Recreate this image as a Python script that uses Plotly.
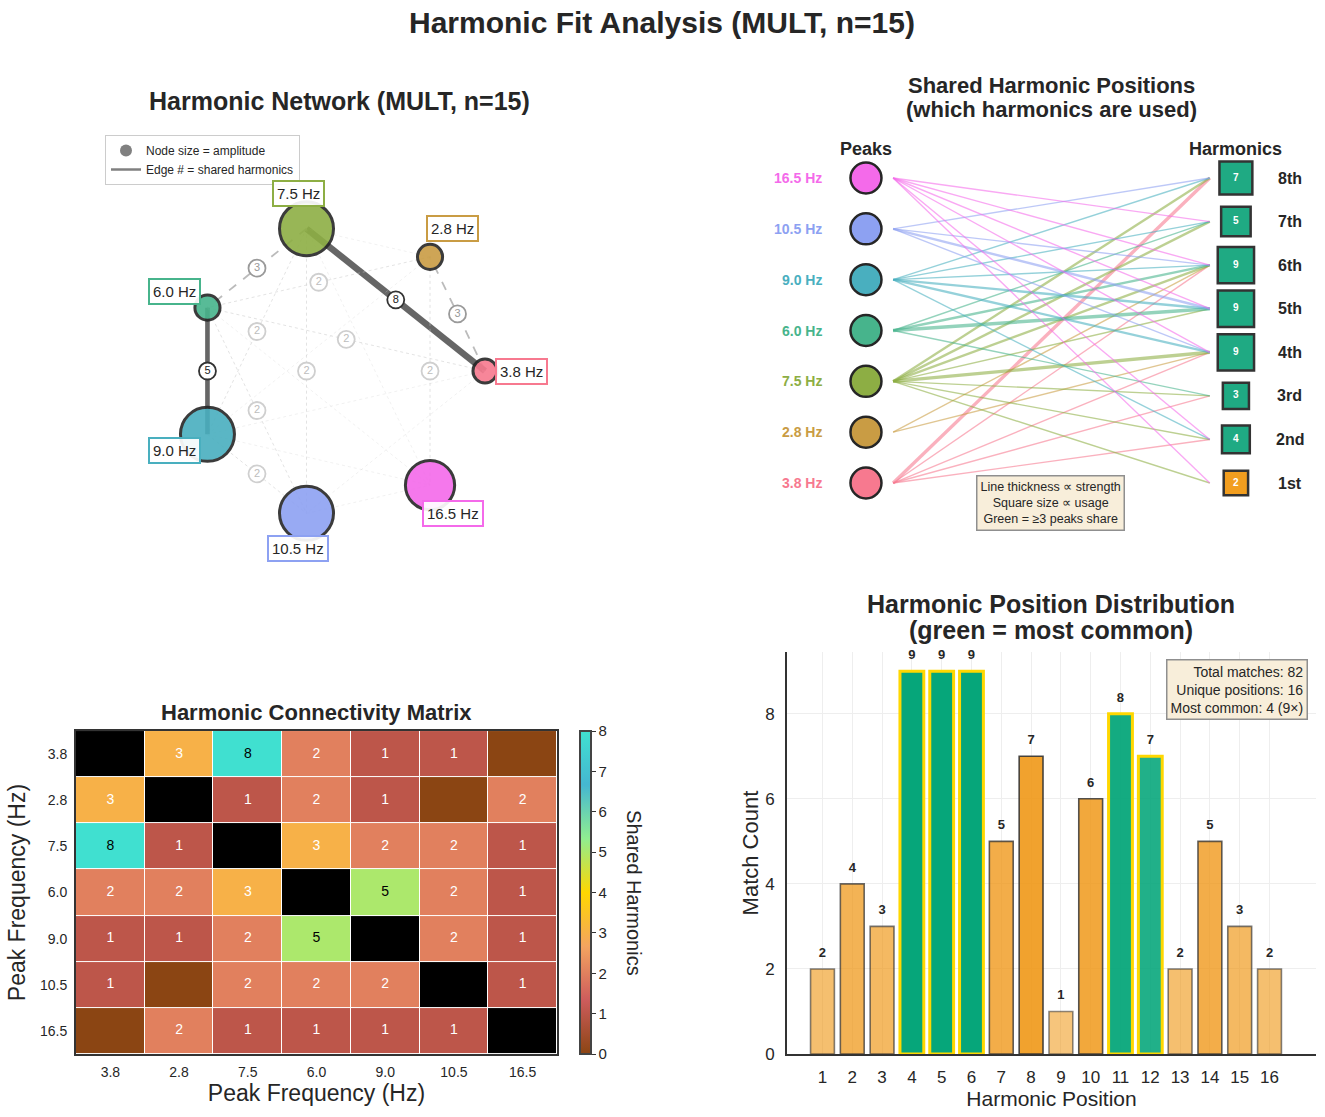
import math
import plotly.graph_objects as go

W, H = 1325, 1117
Y_SCALE = 0.991  # the page comes out a touch shorter than laid out; compensate

# ---- data -------------------------------------------------------------
PEAKS = ["3.8", "2.8", "7.5", "6.0", "9.0", "10.5", "16.5"]
PEAK_COLORS = ["#F7798F", "#C99C44", "#8DAE44", "#47B48C", "#49AFBF", "#8DA1F2", "#F46AEA"]
AMPLITUDE = [0.12, 0.15, 1.0, 0.15, 1.0, 1.0, 0.86]

# shared harmonic counts between peaks (same order as PEAKS)
SHARED = [
    [0, 3, 8, 2, 1, 1, 0],
    [3, 0, 1, 2, 1, 0, 2],
    [8, 1, 0, 3, 2, 2, 1],
    [2, 2, 3, 0, 5, 2, 1],
    [1, 1, 2, 5, 0, 2, 1],
    [1, 0, 2, 2, 2, 0, 1],
    [0, 2, 1, 1, 1, 1, 0],
]

HARMONIC_NAMES = ["1st", "2nd", "3rd", "4th", "5th", "6th", "7th", "8th"]
# matches of each peak (rows, PEAKS order) on harmonic 1..8 (columns)
PEAK_HARMONIC_USE = [
    [0, 1, 1, 1, 0, 1, 0, 3],
    [0, 0, 0, 1, 0, 1, 0, 0],
    [1, 1, 1, 3, 1, 2, 2, 2],
    [0, 0, 1, 0, 3, 2, 1, 0],
    [0, 1, 0, 2, 2, 1, 1, 1],
    [0, 0, 0, 1, 2, 1, 0, 1],
    [1, 1, 0, 1, 1, 1, 1, 0],
]

POSITIONS = list(range(1, 17))
POSITION_COUNTS = [2, 4, 3, 9, 9, 9, 5, 7, 1, 6, 8, 7, 2, 5, 3, 2]
TOP_POSITIONS = [4, 5, 6, 11, 12]

CMAP = ["#8B4513", "#CD5C5C", "#F4A460", "#FFD700", "#90EE90", "#45B7D1", "#40E0D0"]
FONT = "Liberation Sans, Arial, sans-serif"
INK = "#262626"


def px(x):
    return x / W


def py(y):
    return 1 - (y / Y_SCALE) / H


def rgba(hex_color, a):
    h = hex_color.lstrip("#")
    r, g, b = int(h[0:2], 16), int(h[2:4], 16), int(h[4:6], 16)
    return f"rgba({r},{g},{b},{a:.3f})"


def paper_text(x, y, text, size, **kw):
    d = dict(xref="paper", yref="paper", x=px(x), y=py(y), text=text, showarrow=False,
             xanchor="center", yanchor="middle", font=dict(size=size, color=INK))
    d.update(kw)
    return d


fig = go.Figure()
annots = []

# ---- 1. harmonic network ----------------------------------------------
n = len(PEAKS)
ang = [2 * math.pi * i / n for i in range(n)]
nx = [math.cos(a) for a in ang]
ny = [math.sin(a) for a in ang]

for i in range(n):
    for j in range(i + 1, n):
        s = SHARED[i][j]
        if s <= 0:
            continue
        if s >= 5:
            line = dict(width=1.5 + 0.625 * s, color="rgba(102,102,102,1)")
        elif s == 3:
            line = dict(width=1.8, color="rgba(175,175,175,0.85)", dash="dash")
        elif s == 2:
            line = dict(width=1, color="rgba(200,200,200,0.5)", dash="dot")
        else:
            line = dict(width=0.8, color="rgba(210,210,210,0.4)", dash="dot")
        fig.add_trace(go.Scatter(x=[nx[i], nx[j]], y=[ny[i], ny[j]], mode="lines", line=line,
                                 hoverinfo="skip", showlegend=False, xaxis="x", yaxis="y"))

fig.add_trace(go.Scatter(
    x=nx, y=ny, mode="markers", showlegend=False, hoverinfo="skip", xaxis="x", yaxis="y",
    marker=dict(size=[20 + 34 * a for a in AMPLITUDE], color=PEAK_COLORS, opacity=0.9,
                line=dict(color=INK, width=3)),
))

lx, ly, lt, lc, ltc = [], [], [], [], []
for i in range(n):
    for j in range(i + 1, n):
        s = SHARED[i][j]
        if s < 2:
            continue
        lx.append((nx[i] + nx[j]) / 2)
        ly.append((ny[i] + ny[j]) / 2)
        lt.append(str(s))
        lc.append("#333333" if s >= 5 else ("#9A9A9A" if s == 3 else "#CFCFCF"))
        ltc.append("#222222" if s >= 5 else ("#999999" if s == 3 else "#BDBDBD"))
fig.add_trace(go.Scatter(
    x=lx, y=ly, mode="markers+text", text=lt, textposition="middle center",
    textfont=dict(size=11, color=ltc, family=FONT), showlegend=False, hoverinfo="skip",
    marker=dict(size=17, color="white", line=dict(color=lc, width=1.8)), xaxis="x", yaxis="y",
))

fig.add_trace(go.Scatter(x=[None], y=[None], mode="markers", name="Node size = amplitude",
                         marker=dict(size=12, color="#808080"), xaxis="x", yaxis="y"))
fig.add_trace(go.Scatter(x=[None], y=[None], mode="lines", name="Edge # = shared harmonics",
                         line=dict(color="#808080", width=2.5), xaxis="x", yaxis="y"))

for i, p in enumerate(PEAKS):
    annots.append(dict(xref="x", yref="y", x=1.25 * nx[i], y=1.25 * ny[i], text=f"{p} Hz",
                       xanchor="center", yanchor="middle",
                       showarrow=False, bgcolor="rgba(255,255,255,0.92)", bordercolor=PEAK_COLORS[i],
                       borderwidth=2, borderpad=3, font=dict(size=15, color=INK)))

# ---- 2. bipartite peaks -> harmonics ----------------------------------
X_PEAK, X_START, X_END, X_SQ = 0.2172, 0.264, 0.81, 0.855
nh = len(HARMONIC_NAMES)
yp = [i / (n - 1) for i in range(n)]
yh = [h / (nh - 1) for h in range(nh)]

for i in range(n):
    for h in range(nh):
        c = PEAK_HARMONIC_USE[i][h]
        if c <= 0:
            continue
        fig.add_trace(go.Scatter(x=[X_START, X_END], y=[yp[i], yh[h]], mode="lines",
                                 line=dict(color=rgba(PEAK_COLORS[i], 0.58), width=0.4 + 1.0 * c),
                                 hoverinfo="skip", showlegend=False, xaxis="x2", yaxis="y2"))

fig.add_trace(go.Scatter(x=[X_PEAK] * n, y=yp, mode="markers", showlegend=False, hoverinfo="skip",
                         marker=dict(size=31, color=PEAK_COLORS, line=dict(color=INK, width=2.5)),
                         xaxis="x2", yaxis="y2"))

h_counts = [sum(row[h] for row in PEAK_HARMONIC_USE) for h in range(nh)]
fig.add_trace(go.Scatter(
    x=[X_SQ] * nh, y=yh, mode="markers", showlegend=False, hoverinfo="skip", xaxis="x2", yaxis="y2",
    marker=dict(symbol="square", size=[21 + 1.7 * c for c in h_counts], opacity=1,
                color=["#1FAA83" if c >= 3 else "#F29E1F" for c in h_counts],
                line=dict(color="#333333", width=2.5)),
))
fig.add_trace(go.Scatter(
    x=[X_SQ] * nh, y=yh, mode="text", text=[f"<b>{c}</b>" for c in h_counts],
    textposition="middle center", textfont=dict(size=10, color="white", family=FONT),
    showlegend=False, hoverinfo="skip", xaxis="x2", yaxis="y2",
))

for i, p in enumerate(PEAKS):
    annots.append(dict(xref="x2", yref="y2", x=0.145, y=yp[i], xanchor="right", yanchor="middle",
                       text=f"<b>{p} Hz</b>", showarrow=False, font=dict(size=14, color=PEAK_COLORS[i])))
for h, name in enumerate(HARMONIC_NAMES):
    annots.append(dict(xref="x2", yref="y2", x=0.948, y=yh[h], text=f"<b>{name}</b>",
                       xanchor="center", yanchor="middle",
                       showarrow=False, font=dict(size=16, color=INK)))
annots.append(dict(xref="x2", yref="y2", x=X_PEAK, y=1.095, text="<b>Peaks</b>", showarrow=False,
                   xanchor="center", yanchor="middle", font=dict(size=18, color=INK)))
annots.append(dict(xref="x2", yref="y2", x=X_SQ, y=1.095, text="<b>Harmonics</b>", showarrow=False,
                   xanchor="center", yanchor="middle", font=dict(size=18, color=INK)))
annots.append(dict(xref="x2", yref="y2", x=0.536, y=-0.066, xanchor="center", yanchor="middle",
                   text="Line thickness ∝ strength<br>Square size ∝ usage<br>Green = ≥3 peaks share",
                   showarrow=False, align="center", bgcolor="#F8EEDA", bordercolor="#8F8F8F",
                   borderwidth=1.5, borderpad=3, font=dict(size=12.5, color=INK)))

# ---- 3. connectivity matrix -------------------------------------------
z = [[None if i == j else SHARED[i][j] for j in range(n)] for i in range(n)]
zdiag = [[1 if i == j else None for j in range(n)] for i in range(n)]
cscale = [[k / (len(CMAP) - 1), c] for k, c in enumerate(CMAP)]
fig.add_trace(go.Heatmap(
    z=z, x=list(range(n)), y=list(range(n)), colorscale=cscale, zmin=0, zmax=8, xgap=1, ygap=1,
    hoverinfo="skip", xaxis="x3", yaxis="y3",
    colorbar=dict(x=px(580), xanchor="left", xpad=0, ypad=0, y=(py(731) + py(1054)) / 2, yanchor="middle",
                  len=py(731) - py(1054), lenmode="fraction", thickness=11, outlinecolor="#444444",
                  outlinewidth=2, tickvals=list(range(9)), ticks="outside", ticklen=4, tickcolor="#333333",
                  tickfont=dict(size=15, color=INK, family=FONT)),
))
fig.add_trace(go.Heatmap(z=zdiag, x=list(range(n)), y=list(range(n)), colorscale=[[0, "black"], [1, "black"]],
                         showscale=False, xgap=1, ygap=1, hoverinfo="skip", xaxis="x3", yaxis="y3"))
tx, ty, tt, tcol = [], [], [], []
for i in range(n):
    for j in range(n):
        if i != j and SHARED[i][j] > 0:
            tx.append(j)
            ty.append(i)
            tt.append(str(SHARED[i][j]))
            tcol.append("black" if SHARED[i][j] >= 5 else "white")
fig.add_trace(go.Scatter(x=tx, y=ty, mode="text", text=tt, textfont=dict(size=14, color=tcol, family=FONT),
                         showlegend=False, hoverinfo="skip", xaxis="x3", yaxis="y3"))
annots.append(paper_text(634, 893, "Shared Harmonics", 20, textangle=90))

# ---- 4. position distribution -----------------------------------------
cmax = max(POSITION_COUNTS)
bar_fill, bar_line, bar_lw = [], [], []
for pos, c in zip(POSITIONS, POSITION_COUNTS):
    a = 0.5 + 0.5 * c / cmax
    if pos in TOP_POSITIONS:
        bar_fill.append(rgba("#06A67A", a))
        bar_line.append("#FFD700")
        bar_lw.append(3)
    else:
        bar_fill.append(rgba("#EF9614", a))
        bar_line.append(rgba("#333333", a))
        bar_lw.append(1.6)
fig.add_trace(go.Bar(x=POSITIONS, y=POSITION_COUNTS, width=0.8, showlegend=False, hoverinfo="skip",
                     marker=dict(color=bar_fill, line=dict(color=bar_line, width=bar_lw)),
                     xaxis="x4", yaxis="y4"))
fig.add_trace(go.Scatter(x=POSITIONS, y=[c + 0.36 for c in POSITION_COUNTS], mode="text",
                         text=[f"<b>{c}</b>" for c in POSITION_COUNTS], cliponaxis=False,
                         textfont=dict(size=13, color=INK, family=FONT), showlegend=False, hoverinfo="skip",
                         xaxis="x4", yaxis="y4"))
total = sum(POSITION_COUNTS)
unique = sum(1 for c in POSITION_COUNTS if c > 0)
best = POSITIONS[POSITION_COUNTS.index(cmax)]
annots.append(paper_text(1308, 659,
                         f"Total matches: {total}<br>Unique positions: {unique}<br>Most common: {best} ({cmax}×)",
                         14, xanchor="right", yanchor="top", align="right", bgcolor="#F8EEDA",
                         bordercolor="#8F8F8F", borderwidth=1.5, borderpad=3))

# ---- titles -----------------------------------------------------------
annots += [
    paper_text(662, 22, "<b>Harmonic Fit Analysis (MULT, n=15)</b>", 30),
    paper_text(339, 101, "<b>Harmonic Network (MULT, n=15)</b>", 25),
    paper_text(1051, 85, "<b>Shared Harmonic Positions</b>", 22),
    paper_text(1051, 109, "<b>(which harmonics are used)</b>", 22),
    paper_text(316, 712, "<b>Harmonic Connectivity Matrix</b>", 22),
    paper_text(1051, 604, "<b>Harmonic Position Distribution</b>", 25),
    paper_text(1051, 630, "<b>(green = most common)</b>", 25),
]

hidden = dict(visible=False, showgrid=False, zeroline=False)
frame = dict(showline=True, mirror=True, linecolor="#333333", linewidth=2, showgrid=False, zeroline=False,
             ticks="", tickfont=dict(size=14, color=INK), ticklabelstandoff=4)
spine = dict(showgrid=True, gridcolor="#EEEEEE", zeroline=False, showline=True, linecolor="#333333",
             linewidth=2, ticks="", tickfont=dict(size=17, color=INK), ticklabelstandoff=7)

fig.update_layout(
    width=W, height=H, margin=dict(l=0, r=0, t=0, b=0),
    paper_bgcolor="white", plot_bgcolor="white",
    font=dict(family=FONT, color=INK),
    annotations=annots,
    showlegend=True,
    legend=dict(x=px(105), y=py(135), xanchor="left", yanchor="top", bgcolor="white",
                bordercolor="#CCCCCC", borderwidth=1, font=dict(size=12, color=INK),
                tracegroupgap=0, itemwidth=30),
    xaxis=dict(domain=[px(105.4), px(572.6)], range=[-1.6, 1.6], anchor="y", **hidden),
    yaxis=dict(domain=[py(604.6), py(137.4)], range=[-1.6, 1.6], anchor="x", **hidden),
    xaxis2=dict(domain=[px(740), px(1320)], range=[0, 1], anchor="y2", **hidden),
    yaxis2=dict(domain=[py(544), py(117)], range=[-0.2, 1.2], anchor="x2", **hidden),
    xaxis3=dict(domain=[px(76), px(557)], range=[-0.5, n - 0.5], anchor="y3", tickvals=list(range(n)),
                ticktext=PEAKS, title=dict(text="Peak Frequency (Hz)", font=dict(size=23), standoff=1), **frame),
    yaxis3=dict(domain=[py(1054), py(731)], range=[n - 0.5, -0.5], anchor="x3", tickvals=list(range(n)),
                ticktext=PEAKS, title=dict(text="Peak Frequency (Hz)", font=dict(size=23), standoff=8), **frame),
    xaxis4=dict(domain=[px(787), px(1316)], range=[-0.19, 17.56], anchor="y4", tickvals=POSITIONS,
                title=dict(text="Harmonic Position", font=dict(size=21), standoff=0), **spine),
    yaxis4=dict(domain=[py(1054), py(652)], range=[0, 9.45], anchor="x4", tickvals=[0, 2, 4, 6, 8],
                title=dict(text="Match Count", font=dict(size=22), standoff=0), **spine),
)

fig.write_html("out.html", config={"displayModeBar": False},
               post_script="document.body.style.margin='0';")
